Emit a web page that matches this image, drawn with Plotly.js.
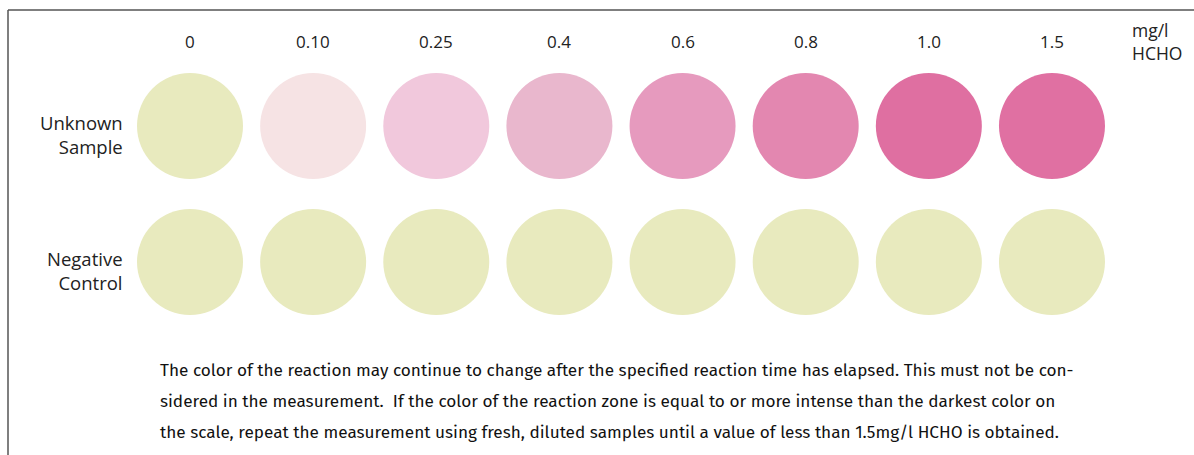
<!DOCTYPE html>
<html>
<head>
<meta charset="utf-8">
<script src="https://cdn.plot.ly/plotly-3.0.1.min.js"></script>
<style>html,body{margin:0;padding:0;background:#fff;}#chart{width:1194px;height:455px;}</style>
</head>
<body>
<div id="chart"></div>
<script>
// Data
const concentrations = ["0", "0.10", "0.25", "0.4", "0.6", "0.8", "1.0", "1.5"];
const unknownColors = ["#e8eabe", "#f6e3e4", "#f1c8dc", "#e9b7cd", "#e69abe", "#e387b0", "#df6fa1", "#e070a2"];
const negativeColors = ["#e8eabe", "#e8eabe", "#e8eabe", "#e8eabe", "#e8eabe", "#e8eabe", "#e8eabe", "#e8eabe"];
const rowLabels = ["Unknown<br>Sample", "Negative<br>Control"];
const rowValues = [1, 0];
const unitLabel = "mg/l<br>HCHO";
const noteLines = [
  "The color of the reaction may continue to change after the specified reaction time has elapsed. This must not be con-",
  "sidered in the measurement.  If the color of the reaction zone is equal to or more intense than the darkest color on",
  "the scale, repeat the measurement using fresh, diluted samples until a value of less than 1.5mg/l HCHO is obtained."
];

const W = 1194, H = 455;
const idx = concentrations.map((_, i) => i);
const font = "'Open Sans', 'Noto Sans', sans-serif";

const traces = [
  {x: idx, y: idx.map(() => rowValues[0]), mode: "markers", type: "scatter", hoverinfo: "skip",
   marker: {size: 106, color: unknownColors, line: {width: 0}}},
  {x: idx, y: idx.map(() => rowValues[1]), mode: "markers", type: "scatter", hoverinfo: "skip",
   marker: {size: 106, color: negativeColors, line: {width: 0}}}
];

const annotations = [];
concentrations.forEach((c, i) => {
  annotations.push({x: i, y: 1.618, xref: "x", yref: "y", text: c, showarrow: false,
    font: {family: font, size: 17, color: "#222"}, xanchor: "center", yanchor: "middle"});
});
rowLabels.forEach((t, k) => {
  annotations.push({x: 125 / W, xref: "paper", y: rowValues[k], yref: "y", yshift: -8, text: t, showarrow: false,
    align: "right", xanchor: "right", yanchor: "middle",
    font: {family: font, size: 18.5, color: "#222"}});
});
annotations.push({x: 1130 / W, xref: "paper", y: 1 - 41 / H, yref: "paper", text: unitLabel, showarrow: false,
  align: "left", xanchor: "left", yanchor: "middle", font: {family: font, size: 17.5, color: "#222"}});
noteLines.forEach((t, k) => {
  annotations.push({x: 158 / W, xref: "paper", y: 1 - (370 + 31 * k) / H, yref: "paper", text: t, showarrow: false,
    align: "left", xanchor: "left", yanchor: "middle", font: {family: "'Fira Sans', 'Noto Sans', sans-serif", size: 17.2, color: "#111"}});
});

const layout = {
  width: W, height: H,
  margin: {l: 0, r: 0, t: 0, b: 0},
  paper_bgcolor: "#fff", plot_bgcolor: "#fff",
  showlegend: false,
  xaxis: {range: [-190 / 123.14, (W - 190) / 123.14], visible: false, fixedrange: true},
  yaxis: {range: [(262 - H) / 136, 262 / 136], visible: false, fixedrange: true},
  annotations: annotations,
  shapes: [
    {type: "line", xref: "paper", yref: "paper", x0: 8 / W, x1: 1, y0: 1 - 10 / H, y1: 1 - 10 / H,
     line: {color: "#555", width: 1.5}},
    {type: "line", xref: "paper", yref: "paper", x0: 8 / W, x1: 8 / W, y0: 0, y1: 1 - 10 / H,
     line: {color: "#555", width: 1.5}}
  ]
};

Plotly.newPlot("chart", traces, layout, {displayModeBar: false, staticPlot: true});
</script>
</body>
</html>
